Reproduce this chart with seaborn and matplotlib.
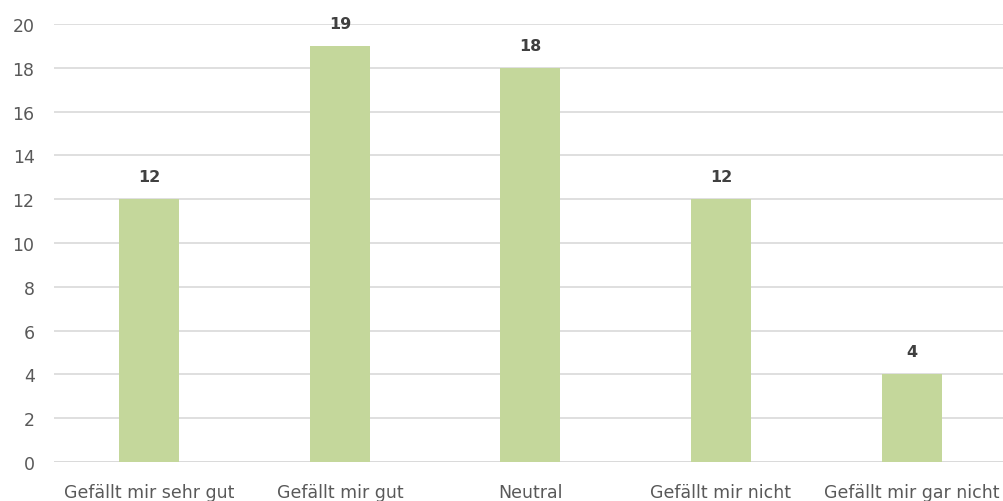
import pandas as pd
import matplotlib.pyplot as plt
import seaborn as sns

# Data
categories = ["Gefällt mir sehr gut", "Gefällt mir gut", "Neutral",
              "Gefällt mir nicht", "Gefällt mir gar nicht"]
counts = [12, 19, 18, 12, 4]
y_ticks = [0, 2, 4, 6, 8, 10, 12, 14, 16, 18, 20]

df = pd.DataFrame({"antwort": categories, "anzahl": counts})

sns.set_style("white")
plt.rcParams["font.family"] = ["Liberation Sans Narrow", "DejaVu Sans"]

fig = plt.figure(figsize=(10.04, 5.02), dpi=100)
ax = fig.add_axes([0.0538, 0.0777, 0.949, 0.8723])

sns.barplot(data=df, x="antwort", y="anzahl", color="#C4D79B",
            saturation=1, width=0.315, linewidth=0, ax=ax, zorder=3)

ax.set_ylim(0, 20)
ax.set_xlim(-0.5, 4.5)
ax.set_yticks(y_ticks)
ax.yaxis.grid(True, color="#D9D9D9", linewidth=1.2, zorder=0)
ax.xaxis.grid(False)
for s in ax.spines.values():
    s.set_visible(False)
ax.axhline(0, color="#D9D9D9", linewidth=1.2, zorder=2)

ax.tick_params(axis="y", length=0, pad=14, labelsize=12.5, labelcolor="#595959")
ax.tick_params(axis="x", length=0, pad=15, labelsize=12.5, labelcolor="#595959")
ax.set_xlabel("")
ax.set_ylabel("")

# data labels on top of the bars
ax.bar_label(ax.containers[0], padding=11, fontsize=11.5, fontweight="bold",
             color="#404040", family="DejaVu Sans")

fig.savefig("out.png", dpi=100)
